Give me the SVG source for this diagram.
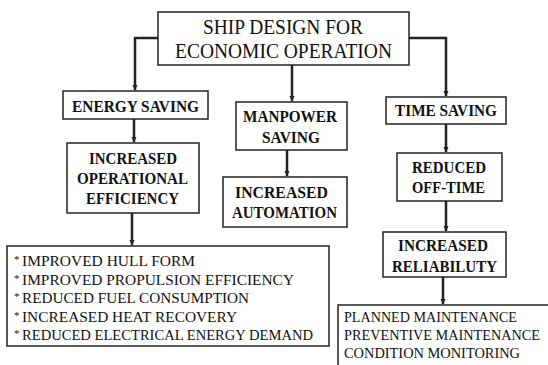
<svg xmlns="http://www.w3.org/2000/svg" width="548" height="365" viewBox="0 0 548 365">
<defs>
<style>
.bx{fill:#fff;stroke:#222;stroke-width:1.5}
.t{font-family:"Liberation Serif","Times New Roman","DejaVu Serif",serif;fill:#111;text-anchor:middle}
.h{font-size:17px;font-weight:bold}
.top{font-size:20.5px}
.l{font-family:"Liberation Serif","Times New Roman","DejaVu Serif",serif;fill:#111;font-size:15.5px}
.c{fill:none;stroke:#222;stroke-width:2.5}
</style>
<marker id="ah" markerWidth="6" markerHeight="6" refX="5" refY="3" orient="auto" markerUnits="userSpaceOnUse">
<path d="M0,0.5 L5.5,3 L0,5.5 Z" fill="#222"/>
</marker>
</defs>
<rect width="548" height="365" fill="#fff"/>
<g id="connectors">
<path class="c" d="M158,38 H135 V90" marker-end="url(#ah)"/>
<path class="c" d="M292,65 V101" marker-end="url(#ah)"/>
<path class="c" d="M409,38 H446 V96" marker-end="url(#ah)"/>
<path class="c" d="M134,119 V142" marker-end="url(#ah)"/>
<path class="c" d="M132,213 V245" marker-end="url(#ah)"/>
<path class="c" d="M287,150 V176" marker-end="url(#ah)"/>
<path class="c" d="M446,124 V152" marker-end="url(#ah)"/>
<path class="c" d="M446,201 V231" marker-end="url(#ah)"/>
<path class="c" d="M443,277 V304" marker-end="url(#ah)"/>
</g>
<g id="ship-design">
<rect class="bx" x="158" y="12" width="251" height="53"/>
<text class="t top" x="283" y="34" textLength="160" lengthAdjust="spacingAndGlyphs">SHIP DESIGN FOR</text>
<text class="t top" x="283.5" y="58" textLength="217" lengthAdjust="spacingAndGlyphs">ECONOMIC OPERATION</text>
</g>
<g id="energy-saving">
<rect class="bx" x="63" y="91" width="145" height="28"/>
<text class="t h" x="135.5" y="112" textLength="127" lengthAdjust="spacingAndGlyphs">ENERGY SAVING</text>
</g>
<g id="operational-efficiency">
<rect class="bx" x="67" y="143" width="132" height="70"/>
<text class="t h" x="133" y="164" textLength="88" lengthAdjust="spacingAndGlyphs">INCREASED</text>
<text class="t h" x="132.5" y="184" textLength="111" lengthAdjust="spacingAndGlyphs">OPERATIONAL</text>
<text class="t h" x="132.5" y="204" textLength="93" lengthAdjust="spacingAndGlyphs">EFFICIENCY</text>
</g>
<g id="energy-list">
<rect class="bx" x="7" y="246" width="322" height="100"/>
<text class="l" y="266"><tspan x="14" font-size="11" dy="-3">*</tspan><tspan x="22" dy="3" textLength="173" lengthAdjust="spacingAndGlyphs">IMPROVED HULL FORM</tspan></text>
<text class="l" y="284.5"><tspan x="14" font-size="11" dy="-3">*</tspan><tspan x="22" dy="3" textLength="272" lengthAdjust="spacingAndGlyphs">IMPROVED PROPULSION  EFFICIENCY</tspan></text>
<text class="l" y="303"><tspan x="14" font-size="11" dy="-3">*</tspan><tspan x="22" dy="3" textLength="227" lengthAdjust="spacingAndGlyphs">REDUCED FUEL CONSUMPTION</tspan></text>
<text class="l" y="321.5"><tspan x="14" font-size="11" dy="-3">*</tspan><tspan x="22" dy="3" textLength="215" lengthAdjust="spacingAndGlyphs">INCREASED HEAT RECOVERY</tspan></text>
<text class="l" y="340"><tspan x="14" font-size="11" dy="-3">*</tspan><tspan x="22" dy="3" textLength="291" lengthAdjust="spacingAndGlyphs">REDUCED ELECTRICAL ENERGY DEMAND</tspan></text>
</g>
<g id="manpower-saving">
<rect class="bx" x="236" y="102" width="111" height="48"/>
<text class="t h" x="290" y="122" textLength="94" lengthAdjust="spacingAndGlyphs">MANPOWER</text>
<text class="t h" x="291" y="143" textLength="58" lengthAdjust="spacingAndGlyphs">SAVING</text>
</g>
<g id="increased-automation">
<rect class="bx" x="223" y="177" width="124" height="50"/>
<text class="t h" x="281.5" y="198" textLength="93" lengthAdjust="spacingAndGlyphs">INCREASED</text>
<text class="t h" x="284.5" y="218" textLength="105" lengthAdjust="spacingAndGlyphs">AUTOMATION</text>
</g>
<g id="time-saving">
<rect class="bx" x="386" y="97" width="120" height="27"/>
<text class="t h" x="446" y="116" textLength="102" lengthAdjust="spacingAndGlyphs">TIME SAVING</text>
</g>
<g id="reduced-off-time">
<rect class="bx" x="397" y="153" width="105" height="48"/>
<text class="t h" x="449" y="173" textLength="74" lengthAdjust="spacingAndGlyphs">REDUCED</text>
<text class="t h" x="448.5" y="193" textLength="73" lengthAdjust="spacingAndGlyphs">OFF-TIME</text>
</g>
<g id="increased-reliability">
<rect class="bx" x="383" y="232" width="123" height="45"/>
<text class="t h" x="443" y="251" textLength="90" lengthAdjust="spacingAndGlyphs">INCREASED</text>
<text class="t h" x="444.5" y="272" textLength="105" lengthAdjust="spacingAndGlyphs">RELIABILUTY</text>
</g>
<g id="maintenance-list">
<path class="bx" d="M548,305 H338 V365"/>
<text class="l" x="344" y="322" font-size="15" textLength="173" lengthAdjust="spacingAndGlyphs">PLANNED MAINTENANCE</text>
<text class="l" x="344" y="340" font-size="15" textLength="196" lengthAdjust="spacingAndGlyphs">PREVENTIVE MAINTENANCE</text>
<text class="l" x="344" y="358" font-size="15" textLength="176" lengthAdjust="spacingAndGlyphs">CONDITION MONITORING</text>
</g>
</svg>
